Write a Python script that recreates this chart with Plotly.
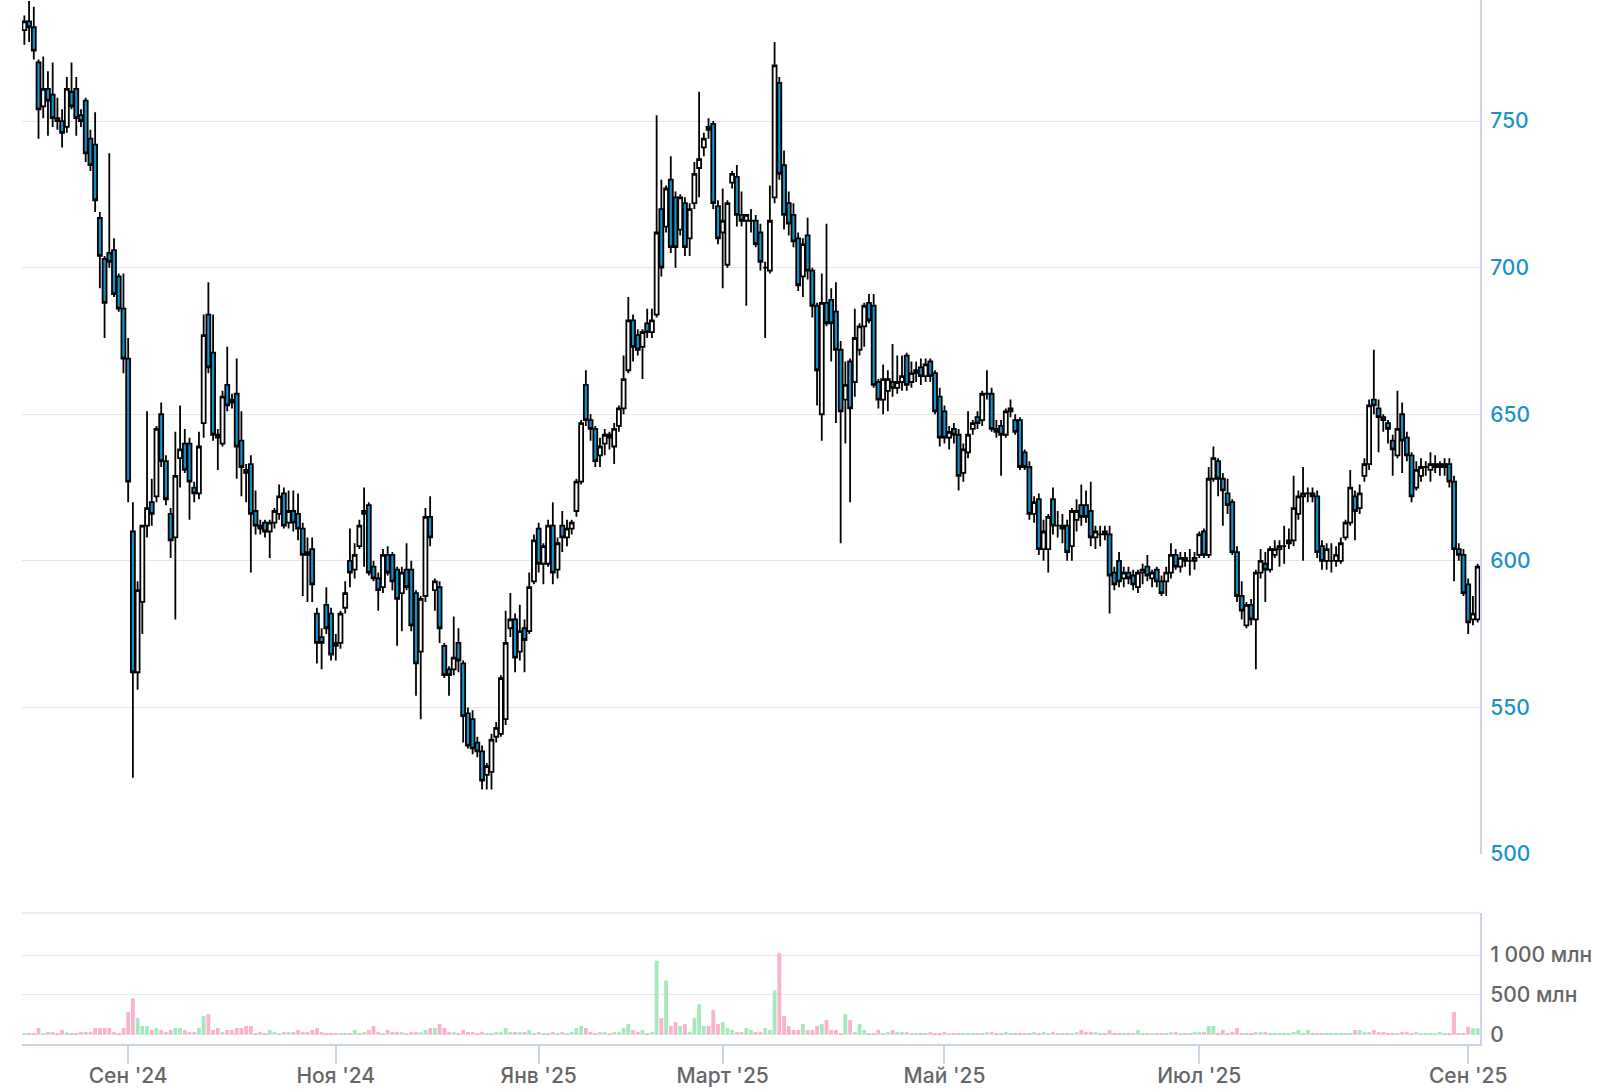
import plotly.graph_objects as go

# ---------------- data ----------------
open_ = [
    781, 784, 782, 770, 755, 761, 759, 751, 750, 748,
    760, 761, 752, 757, 744, 742, 717, 703, 705, 706,
    697, 686, 669, 610, 562, 586, 612, 620, 622, 650,
    634, 616, 608, 635, 640, 640, 625, 623, 647, 684,
    671, 643, 640, 660, 655, 657, 641, 631, 633, 617,
    612, 613, 610, 613, 616, 623, 613, 617, 616, 611,
    603, 604, 582, 574, 585, 582, 572, 572, 584, 600,
    597, 605, 616, 619, 598, 594, 591, 602, 602, 597,
    589, 597, 597, 589, 569, 588, 615, 590, 591, 571,
    563, 563, 572, 565, 548, 546, 538, 535, 527, 528,
    540, 541, 546, 577, 580, 569, 577, 576, 593, 611,
    599, 599, 612, 597, 612, 608, 611, 617, 627, 660,
    648, 645, 636, 640, 643, 639, 646, 652, 665, 682,
    677, 673, 681, 678, 684, 720, 714, 730, 724, 713,
    722, 710, 722, 734, 741, 748, 749, 721, 712, 701,
    729, 731, 718, 716, 716, 716, 712, 700, 699, 724,
    763, 735, 722, 718, 710, 697, 711, 699, 687, 650,
    688, 689, 685, 672, 655, 668, 661, 672, 680, 688,
    687, 661, 655, 658, 661, 659, 661, 670, 661, 664,
    666, 663, 668, 664, 656, 651, 642, 645, 643, 630,
    637, 645, 649, 648, 657, 657, 645, 646, 643, 651,
    648, 648, 637, 632, 616, 621, 604, 604, 621, 612,
    612, 612, 605, 614, 619, 619, 617, 608, 609, 610,
    609, 596, 600, 594, 596, 595, 591, 596, 598, 594,
    597, 593, 593, 596, 602, 598, 601, 600, 600, 602,
    610, 602, 628, 634, 628, 623, 620, 603, 588, 578,
    585, 580, 596, 599, 597, 602, 604, 605, 606, 607,
    616, 622, 623, 623, 622, 605, 600, 600, 600, 600,
    608, 613, 622, 618, 629, 633, 655, 652, 649, 647,
    641, 636, 650, 642, 636, 625, 629, 632, 631, 632,
    632, 632, 633, 627, 604, 602, 592, 580, 580,
]
high = [
    786, 791, 789, 771, 772, 767, 770, 758, 754, 765,
    770, 765, 754, 758, 747, 753, 719, 704, 739, 710,
    698, 698, 676, 620, 593, 612, 651, 628, 646, 654,
    636, 618, 644, 653, 645, 642, 627, 644, 684, 695,
    684, 645, 658, 673, 657, 669, 651, 633, 636, 624,
    614, 614, 614, 618, 626, 625, 624, 624, 623, 613,
    608, 608, 584, 577, 591, 584, 575, 583, 593, 611,
    606, 614, 625, 620, 600, 596, 604, 605, 603, 598,
    598, 606, 600, 590, 588, 618, 622, 594, 593, 572,
    564, 581, 577, 566, 550, 549, 540, 537, 531, 541,
    545, 561, 583, 589, 582, 585, 580, 596, 609, 613,
    606, 614, 620, 608, 617, 614, 614, 628, 648, 665,
    650, 646, 642, 645, 644, 647, 653, 670, 690, 684,
    679, 679, 686, 686, 752, 730, 728, 738, 726, 725,
    724, 722, 736, 760, 746, 751, 750, 723, 727, 723,
    733, 735, 726, 718, 720, 718, 715, 702, 728, 777,
    765, 740, 726, 722, 712, 710, 717, 700, 688, 698,
    715, 693, 695, 675, 668, 669, 686, 681, 688, 691,
    691, 662, 667, 665, 674, 670, 670, 671, 668, 668,
    669, 669, 669, 665, 659, 653, 646, 647, 645, 640,
    651, 648, 651, 658, 665, 659, 648, 648, 652, 655,
    650, 649, 638, 634, 622, 623, 614, 616, 625, 617,
    616, 614, 618, 621, 626, 624, 627, 612, 612, 612,
    612, 598, 603, 598, 598, 597, 597, 599, 602, 597,
    598, 595, 598, 606, 604, 603, 603, 604, 603, 610,
    611, 632, 639, 635, 630, 628, 621, 605, 593, 586,
    587, 597, 604, 603, 605, 607, 607, 612, 611, 629,
    624, 632, 625, 625, 624, 607, 606, 606, 605, 608,
    614, 631, 624, 626, 635, 655, 672, 655, 650, 648,
    643, 658, 654, 644, 637, 634, 635, 634, 637, 636,
    634, 635, 635, 629, 606, 604, 594, 588, 599,
]
low = [
    776, 777, 771, 744, 751, 745, 748, 747, 741, 746,
    754, 745, 748, 736, 733, 719, 693, 676, 700, 690,
    685, 664, 620, 526, 556, 575, 608, 612, 620, 632,
    619, 601, 580, 625, 630, 614, 620, 621, 642, 664,
    641, 631, 639, 651, 652, 628, 622, 620, 596, 609,
    609, 608, 601, 611, 614, 611, 611, 610, 607, 588,
    586, 586, 565, 563, 575, 566, 566, 570, 582, 591,
    594, 604, 598, 595, 593, 583, 589, 595, 590, 571,
    576, 590, 576, 554, 546, 586, 605, 583, 572, 560,
    554, 561, 562, 538, 536, 534, 533, 522, 522, 522,
    538, 540, 544, 574, 562, 566, 562, 575, 592, 596,
    592, 598, 592, 594, 603, 605, 609, 615, 626, 646,
    641, 632, 632, 636, 638, 633, 644, 650, 664, 668,
    670, 662, 676, 676, 683, 697, 712, 705, 700, 711,
    704, 704, 720, 724, 738, 744, 720, 708, 693, 700,
    727, 714, 714, 687, 712, 707, 699, 676, 698, 722,
    730, 713, 711, 707, 692, 690, 696, 683, 653, 641,
    680, 668, 647, 606, 640, 620, 656, 670, 673, 681,
    659, 652, 650, 651, 656, 657, 658, 658, 659, 661,
    660, 661, 661, 650, 639, 640, 638, 640, 624, 627,
    635, 643, 645, 646, 655, 644, 642, 629, 642, 649,
    643, 631, 631, 614, 613, 602, 600, 596, 609, 608,
    606, 600, 600, 610, 612, 613, 605, 604, 605, 607,
    582, 590, 591, 591, 592, 590, 589, 592, 593, 591,
    591, 588, 588, 594, 597, 596, 598, 595, 597, 601,
    601, 601, 627, 622, 612, 616, 602, 586, 580, 577,
    578, 563, 594, 586, 596, 601, 598, 599, 604, 605,
    614, 600, 620, 620, 601, 597, 597, 596, 598, 599,
    607, 612, 607, 616, 627, 631, 650, 637, 644, 640,
    629, 635, 630, 634, 620, 624, 627, 629, 627, 630,
    629, 629, 625, 593, 600, 588, 575, 578, 579,
]
close = [
    784, 782, 774, 754, 761, 757, 751, 750, 746, 761,
    755, 751, 750, 739, 735, 723, 704, 688, 702, 691,
    686, 669, 627, 562, 590, 612, 618, 616, 645, 634,
    621, 607, 629, 638, 631, 627, 623, 639, 677, 666,
    643, 642, 656, 653, 654, 639, 632, 630, 616, 612,
    611, 610, 613, 617, 622, 612, 617, 613, 611, 602,
    602, 592, 572, 572, 577, 568, 571, 582, 589, 596,
    602, 612, 617, 596, 594, 590, 602, 596, 593, 587,
    596, 591, 578, 565, 587, 615, 608, 593, 577, 561,
    561, 567, 566, 547, 537, 536, 535, 525, 530, 539,
    543, 560, 572, 580, 567, 576, 573, 591, 607, 599,
    605, 612, 596, 606, 608, 611, 613, 627, 647, 648,
    645, 634, 639, 643, 642, 645, 652, 662, 682, 673,
    672, 678, 678, 682, 712, 700, 727, 707, 707, 724,
    707, 720, 732, 737, 744, 747, 722, 710, 716, 722,
    732, 718, 716, 718, 716, 708, 702, 700, 716, 769,
    732, 718, 715, 709, 694, 708, 699, 687, 665, 688,
    681, 681, 672, 651, 660, 652, 676, 680, 687, 682,
    660, 655, 662, 662, 659, 661, 663, 660, 664, 665,
    663, 667, 663, 651, 642, 642, 644, 643, 629, 638,
    643, 647, 647, 657, 657, 645, 644, 643, 651, 652,
    644, 632, 632, 616, 620, 604, 610, 615, 612, 612,
    611, 603, 617, 617, 615, 615, 608, 610, 609, 609,
    595, 592, 593, 596, 594, 592, 596, 597, 595, 596,
    593, 589, 596, 602, 598, 601, 600, 600, 601, 609,
    602, 628, 635, 628, 624, 619, 603, 588, 583, 585,
    580, 596, 600, 597, 604, 604, 605, 605, 607, 618,
    622, 623, 623, 622, 603, 600, 604, 600, 602, 606,
    613, 625, 617, 623, 633, 653, 653, 649, 648, 645,
    638, 645, 641, 636, 622, 631, 632, 632, 633, 633,
    633, 633, 627, 604, 602, 589, 579, 582, 598,
]
volume_mln = [
    5, 5, 5, 79, 5, 29, 29, 5, 54, 25,
    5, 5, 29, 29, 29, 79, 79, 79, 79, 29,
    10, 79, 280, 454, 204, 104, 104, 54, 79, 54,
    29, 54, 79, 79, 54, 29, 29, 79, 229, 254,
    54, 79, 29, 54, 54, 79, 79, 104, 104, 8,
    29, 5, 54, 29, 5, 29, 29, 29, 54, 29,
    29, 54, 79, 29, 5, 5, 5, 5, 5, 5,
    54, 5, 29, 54, 104, 29, 5, 54, 29, 29,
    29, 5, 29, 29, 29, 54, 79, 79, 129, 79,
    29, 29, 5, 54, 29, 29, 5, 29, 5, 5,
    29, 29, 79, 29, 29, 29, 29, 54, 5, 29,
    5, 5, 29, 5, 29, 5, 29, 79, 104, 79,
    29, 5, 29, 29, 5, 29, 29, 79, 129, 54,
    29, 54, 5, 29, 929, 204, 679, 104, 154, 104,
    129, 29, 204, 379, 104, 104, 304, 129, 154, 79,
    54, 29, 29, 79, 54, 29, 29, 79, 54, 554,
    1029, 229, 104, 54, 54, 129, 54, 54, 104, 129,
    179, 54, 54, 5, 254, 179, 29, 129, 54, 5,
    5, 54, 5, 29, 54, 29, 29, 29, 5, 5,
    5, 5, 29, 5, 5, 29, 5, 5, 5, 5,
    5, 5, 5, 5, 29, 29, 5, 5, 29, 5,
    5, 5, 5, 5, 29, 5, 29, 5, 29, 5,
    5, 5, 5, 29, 54, 29, 29, 29, 5, 5,
    54, 5, 5, 5, 5, 5, 54, 5, 5, 5,
    5, 5, 5, 29, 29, 5, 5, 5, 29, 29,
    29, 104, 104, 5, 54, 5, 29, 79, 5, 5,
    5, 29, 29, 29, 5, 5, 5, 5, 5, 29,
    54, 5, 54, 5, 5, 5, 5, 5, 5, 5,
    5, 5, 54, 54, 29, 29, 54, 29, 29, 5,
    5, 5, 29, 29, 5, 29, 5, 5, 5, 5,
    29, 5, 5, 284, 5, 5, 97, 76, 76,
]

tick_index = [22, 66, 109, 148, 195, 249, 306]
tick_labels = ["Сен '24", "Ноя '24", "Янв '25", "Март '25", "Май '25", "Июл '25", "Сен '25"]
price_ticks = [500, 550, 600, 650, 700, 750]
volume_ticks = [0, 500, 1000]
volume_tick_labels = ["0", "500 млн", "1 000 млн"]

# ---------------- styling ----------------
W, H = 1621, 1091
X0, X1 = 22 / W, 1480 / W
PRICE_DOM = [(H - 854) / H, 1.0]
VOL_DOM = [(H - 1044) / H, (H - 913) / H]
AXIS_COL = "#c9d4e8"
GRID_COL = "#e6e6e6"
BLUE = "#1a93c9"
GRAY = "#666666"
FONT = "Inter"

x = list(range(len(close)))
vol_colors = ["#a3e9bb" if c >= o else "#fbb0cb" for o, c in zip(open_, close)]

fig = go.Figure()
fig.add_trace(go.Candlestick(
    x=x, open=open_, high=high, low=low, close=close,
    xaxis="x", yaxis="y",
    increasing=dict(line=dict(color="#000000", width=1.8), fillcolor="#ffffff"),
    decreasing=dict(line=dict(color="#000000", width=1.8), fillcolor="#1590c8"),
    whiskerwidth=0, hoverinfo="skip",
))
fig.add_trace(go.Bar(
    x=x, y=volume_mln, xaxis="x2", yaxis="y2",
    marker=dict(color=vol_colors, line=dict(width=0)), width=0.8,
    hoverinfo="skip",
))

fig.update_layout(
    width=W, height=H,
    margin=dict(l=0, r=0, t=0, b=0),
    paper_bgcolor="white", plot_bgcolor="white",
    showlegend=False, boxgap=0.16, boxgroupgap=0,
    font=dict(family=FONT, size=21, color=GRAY),
    xaxis=dict(domain=[X0, X1], anchor="y", range=[-0.5, len(close) - 0.5],
               showticklabels=False, showgrid=False, zeroline=False, showline=False,
               rangeslider=dict(visible=False), matches="x2", automargin=False),
    yaxis=dict(domain=PRICE_DOM, anchor="x", side="right", range=[500, 791.3],
               tickvals=price_ticks, showgrid=True, gridcolor=GRID_COL, gridwidth=1,
               showline=True, linecolor=AXIS_COL, linewidth=2, zeroline=False,
               ticks="outside", ticklen=4, tickcolor="rgba(0,0,0,0)",
               tickfont=dict(family=FONT, size=21, color=BLUE, weight=500),
               automargin=False),
    xaxis2=dict(domain=[X0, X1], anchor="y2", range=[-0.5, len(close) - 0.5],
                tickvals=tick_index, ticktext=tick_labels,
                ticks="outside", ticklen=18, tickwidth=2, tickcolor=AXIS_COL,
                ticklabelstandoff=-6,
                showline=True, linecolor=AXIS_COL, linewidth=2,
                showgrid=False, zeroline=False,
                tickfont=dict(family=FONT, size=21, color=GRAY, weight=500),
                automargin=False),
    yaxis2=dict(domain=VOL_DOM, anchor="x2", side="right", range=[-122, 1530],
                tickvals=volume_ticks, ticktext=volume_tick_labels,
                showgrid=True, gridcolor=GRID_COL, gridwidth=1,
                showline=True, linecolor=AXIS_COL, linewidth=2, zeroline=False,
                ticks="outside", ticklen=4, tickcolor="rgba(0,0,0,0)",
                tickfont=dict(family=FONT, size=21, color=GRAY, weight=500),
                automargin=False),
    shapes=[dict(type="line", xref="paper", yref="paper", x0=X0, x1=X1,
                 y0=VOL_DOM[1], y1=VOL_DOM[1], line=dict(color=GRID_COL, width=1.5))],
)

fig.write_html("out.html", config={"displayModeBar": False},
               post_script="document.body.style.margin='0';")
